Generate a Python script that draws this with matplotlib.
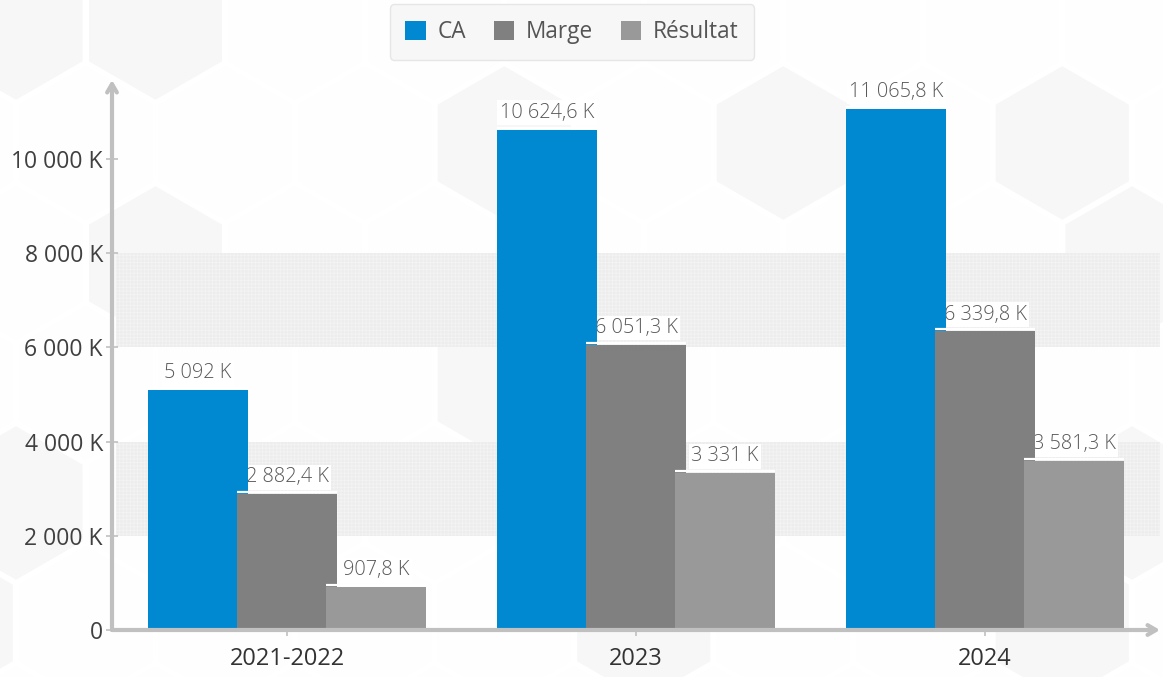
import matplotlib
matplotlib.use("Agg")
import matplotlib.pyplot as plt
from matplotlib.patches import RegularPolygon, Patch
import numpy as np

# ---- data ----
categories = ["2021-2022", "2023", "2024"]
series_names = ["CA", "Marge", "Résultat"]
ca = [5092.0, 10624.6, 11065.8]
marge = [2882.4, 6051.3, 6339.8]
resultat = [907.8, 3331.0, 3581.3]
value_labels = [
    ["5 092 K", "10 624,6 K", "11 065,8 K"],
    ["2 882,4 K", "6 051,3 K", "6 339,8 K"],
    ["907,8 K", "3 331 K", "3 581,3 K"],
]
yticks = [0, 2000, 4000, 6000, 8000, 10000]
ytick_labels = ["0", "2 000 K", "4 000 K", "6 000 K", "8 000 K", "10 000 K"]
bands = [(2000, 4000), (6000, 8000)]

colors = ["#0088d1", "#808080", "#999999"]

plt.rcParams['font.family'] = ['Open Sans', 'DejaVu Sans']

W, H = 1163, 677
fig = plt.figure(figsize=(W / 100, H / 100), dpi=100)
fig.patch.set_facecolor("white")

# ---- background hexagon decoration ----
bg = fig.add_axes([0, 0, 1, 1], zorder=-10)
bg.set_xlim(0, W)
bg.set_ylim(H, 0)
bg.axis("off")
R = 80
dx = 139.5
dy = 120
gray_cells = {(0, 0), (1, 0), (5, 1), (7, 1), (1, 2), (0, 4), (3, 3),
              (6, 3), (8, 4), (4, 5), (7, 5), (-1, 5), (8, 2), (3, 1)}
for j in range(-1, 7):
    for i in range(-1, 10):
        cx = 16 + dx * i + (dx / 2) * (j % 2)
        cy = 23 + dy * j
        fc = "#f7f7f7" if (i, j) in gray_cells else "#fefefe"
        bg.add_patch(RegularPolygon((cx, cy), numVertices=6, radius=R,
                                    orientation=0, facecolor=fc,
                                    edgecolor="white", lw=4.0))

# ---- main axes ----
left = 112 / W
bottom = (H - 630) / H
ax = fig.add_axes([left, bottom, (1160 - 112) / W, (630 - 80) / H])
ax.set_facecolor("none")
ax.set_xlim(-0.5014, 2.5014)
ax.set_ylim(0, 11680)

plt.rcParams['hatch.linewidth'] = 0.3
for lo, hi in bands:
    ax.axhspan(lo, hi, xmin=0.004, xmax=1, facecolor="#f7f7f7",
               edgecolor="#ebebeb", hatch="+" * 12, lw=0, zorder=1)

x = np.arange(len(categories))
width = 0.2865
offset = 0.255
all_series = [ca, marge, resultat]
for k, vals in enumerate(all_series):
    pos = x + (k - 1) * offset
    ax.bar(pos, vals, width=width, color=colors[k], zorder=3 + k, lw=0)
    for p, v, lab in zip(pos, vals, value_labels[k]):
        ax.hlines(v + 45, p - width / 2, p + width / 2, color="white",
                  lw=1.6, zorder=8)
        ax.annotate(lab, xy=(p, v), xytext=(0, 5), textcoords="offset points",
                    ha="center", va="bottom", fontsize=14.3, color="#595959",
                    fontweight="light", zorder=2.5,
                    bbox=dict(boxstyle="square,pad=0.12", fc="white", ec="none"))

for s in ax.spines.values():
    s.set_visible(False)

axcol = "#c0c0c0"
ax.annotate("", xy=(0, 1.0), xytext=(0, 0), xycoords="axes fraction",
            arrowprops=dict(arrowstyle="->,head_length=0.6,head_width=0.35",
                            lw=3, color=axcol, shrinkA=0, shrinkB=0),
            annotation_clip=False, zorder=9)
ax.annotate("", xy=(1.0, 0), xytext=(0, 0), xycoords="axes fraction",
            arrowprops=dict(arrowstyle="->,head_length=0.6,head_width=0.35",
                            lw=3, color=axcol, shrinkA=0, shrinkB=0),
            annotation_clip=False, zorder=9)

ax.set_yticks(yticks)
ax.set_yticklabels(ytick_labels)
ax.set_xticks(x)
ax.set_xticklabels(categories)
ax.tick_params(axis="y", direction="inout", length=9, width=1.2, color=axcol,
               labelsize=16.5, labelcolor="#404040", pad=2)
ax.tick_params(axis="x", direction="inout", length=9, width=1.2, color=axcol,
               labelsize=17, labelcolor="#333333", pad=8)

# ---- legend ----
handles = [Patch(facecolor=c, edgecolor="none") for c in colors]
leg = fig.legend(handles, series_names, loc="center",
                 bbox_to_anchor=(572 / W, 1 - 32 / H), ncol=3,
                 frameon=True, fancybox=True, fontsize=16.3,
                 handlelength=0.9, handleheight=0.9, handletextpad=0.5,
                 columnspacing=1.25, borderpad=0.7)
frame = leg.get_frame()
frame.set_facecolor("#f7f7f7")
frame.set_edgecolor("#e6e6e6")
frame.set_alpha(1)
for t in leg.get_texts():
    t.set_color("#555555")

fig.savefig("out.png", dpi=100)
